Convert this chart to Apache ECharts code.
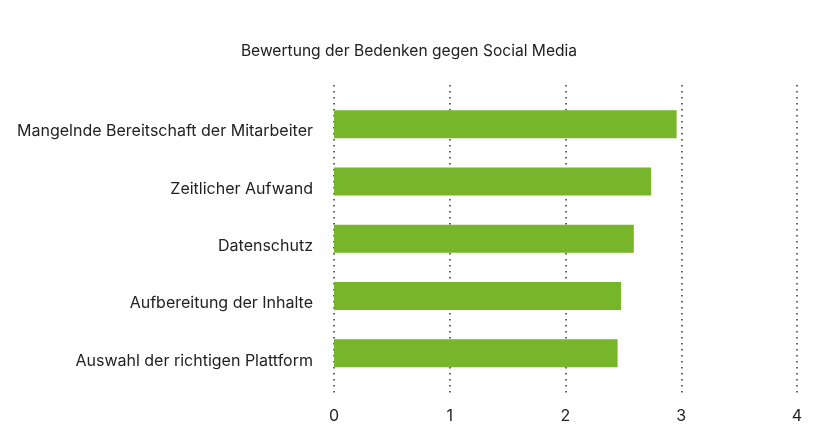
<!DOCTYPE html>
<html>
<head>
<meta charset="utf-8">
<script src="https://cdn.jsdelivr.net/npm/echarts@6/dist/echarts.min.js"></script>
<style>html,body{margin:0;padding:0;background:#fff}#c{width:818px;height:438px}</style>
</head>
<body>
<div id="c"></div>
<script>
const categories = [
  "Mangelnde Bereitschaft der Mitarbeiter",
  "Zeitlicher Aufwand",
  "Datenschutz",
  "Aufbereitung der Inhalte",
  "Auswahl der richtigen Plattform"
];
const values = [2.96, 2.74, 2.59, 2.48, 2.45];
const tickLabels = ["0", "1", "2", "3", "4"];

const chart = echarts.init(document.getElementById('c'), null, {renderer: 'canvas'});
const font = 'Inter, Roboto, sans-serif';
chart.setOption({
  animation: false,
  title: {
    text: "Bewertung der Bedenken gegen Social Media",
    left: 'center', top: 38,
    textStyle: {fontFamily: font, fontSize: 15.6, fontWeight: 'normal', color: '#222'}
  },
  grid: [
    {left: 334, right: 21, top: 95.5, height: 286.5},
    {left: 334, right: 21, top: 85, bottom: 45}
  ],
  xAxis: [
    {gridIndex: 0, type: 'value', min: 0, max: 4, interval: 1,
     axisLine: {show: false}, axisTick: {show: false}, axisLabel: {show: false}, splitLine: {show: false}},
    {gridIndex: 1, type: 'value', min: 0, max: 4, interval: 1,
     axisLine: {show: false}, axisTick: {show: false},
     axisLabel: {fontFamily: font, fontSize: 16, color: '#222', margin: 15,
       formatter: (v) => tickLabels[Math.round(v)]},
     splitLine: {show: true, lineStyle: {color: '#333', width: 1.5, type: [1.5, 4.5]}}}
  ],
  yAxis: [
    {gridIndex: 0, type: 'category', data: categories, inverse: true,
     axisLine: {show: false}, axisTick: {show: false},
     axisLabel: {fontFamily: font, fontSize: 16, color: '#222', margin: 21,
       verticalAlign: 'top', lineHeight: 15}},
    {gridIndex: 1, type: 'value', show: false}
  ],
  series: [{
    type: 'bar', xAxisIndex: 0, yAxisIndex: 0,
    data: values, barWidth: 28, z: 1,
    itemStyle: {color: '#77b52a'}
  }]
});
</script>
</body>
</html>
